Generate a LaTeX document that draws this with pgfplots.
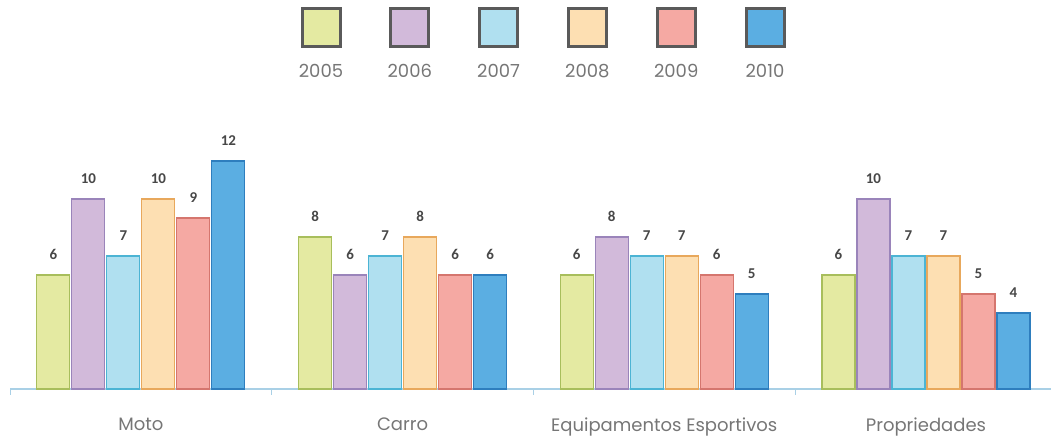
\documentclass[border=0pt]{standalone}
\usepackage{pgfplots}
\pgfplotsset{compat=1.18}
\usepackage{fontspec}
\setmainfont{Poppins}
\newfontfamily\numfont{Carlito}

\definecolor{fA}{HTML}{E4EAA2}\definecolor{eA}{HTML}{A8BE5C}
\definecolor{fB}{HTML}{D2BADA}\definecolor{eB}{HTML}{9A84BA}
\definecolor{fC}{HTML}{B0E0F0}\definecolor{eC}{HTML}{4CB4D4}
\definecolor{fD}{HTML}{FDDFB2}\definecolor{eD}{HTML}{E8A85C}
\definecolor{fE}{HTML}{F5A9A3}\definecolor{eE}{HTML}{D5766E}
\definecolor{fF}{HTML}{5BAEE2}\definecolor{eF}{HTML}{2E7EBE}
\definecolor{axisblue}{HTML}{A9D0E6}
\definecolor{txtgray}{HTML}{767676}
\definecolor{boxgray}{HTML}{5A5A5A}

\begin{document}
\begin{tikzpicture}
\useasboundingbox (0,0) rectangle (525.5pt,221pt);
\begin{axis}[
    at={(5pt,26.5pt)}, anchor=south west,
    scale only axis,
    width=520.8pt, height=133pt,
    ybar=1pt, bar width=16.5pt,
    xmin=-0.5, xmax=3.48,
    ymin=0, ymax=14,
    axis y line=none,
    axis x line*=bottom,
    x axis line style={draw=axisblue, line width=0.6pt},
    xtick={0,1,2,3},
    xticklabels={Moto,Carro,Equipamentos Esportivos,Propriedades},
    major tick length=0pt,
    extra x ticks={-0.5,0.5,1.5,2.5},
    extra x tick labels={},
    extra x tick style={major tick length=3pt, tick align=outside,
        tick style={draw=axisblue, line width=0.5pt}},
    xticklabel style={font=\fontsize{9}{10}\selectfont, text=txtgray, yshift=-11pt},
    /pgf/number format/assume math mode=true,
    nodes near coords,
    every node near coord/.append style={font=\numfont\bfseries\fontsize{7.5}{8}\selectfont,
        text=black!72, yshift=4pt},
    clip=false,
]
\addplot[fill=fA, draw=eA, line width=0.6pt] coordinates {(0,6)(1,8)(2,6)(3,6)};
\addplot[fill=fB, draw=eB, line width=0.6pt] coordinates {(0,10)(1,6)(2,8)(3,10)};
\addplot[fill=fC, draw=eC, line width=0.6pt] coordinates {(0,7)(1,7)(2,7)(3,7)};
\addplot[fill=fD, draw=eD, line width=0.6pt] coordinates {(0,10)(1,8)(2,7)(3,7)};
\addplot[fill=fE, draw=eE, line width=0.6pt] coordinates {(0,9)(1,6)(2,6)(3,5)};
\addplot[fill=fF, draw=eF, line width=0.6pt] coordinates {(0,12)(1,6)(2,5)(3,4)};
\end{axis}
% legend
\foreach \c/\y [count=\i from 0] in {fA/2005,fB/2006,fC/2007,fD/2008,fE/2009,fF/2010}{
  \pgfmathsetmacro{\xx}{160.5+44.4*\i}
  \draw[fill=\c, draw=boxgray, line width=1.5pt] (\xx pt-9.5pt,197.5pt) rectangle (\xx pt+9.5pt,216.5pt);
  \node[text=txtgray, font=\fontsize{9}{10}\selectfont] at (\xx pt,185.5pt) {\y};
}
\end{tikzpicture}
\end{document}
